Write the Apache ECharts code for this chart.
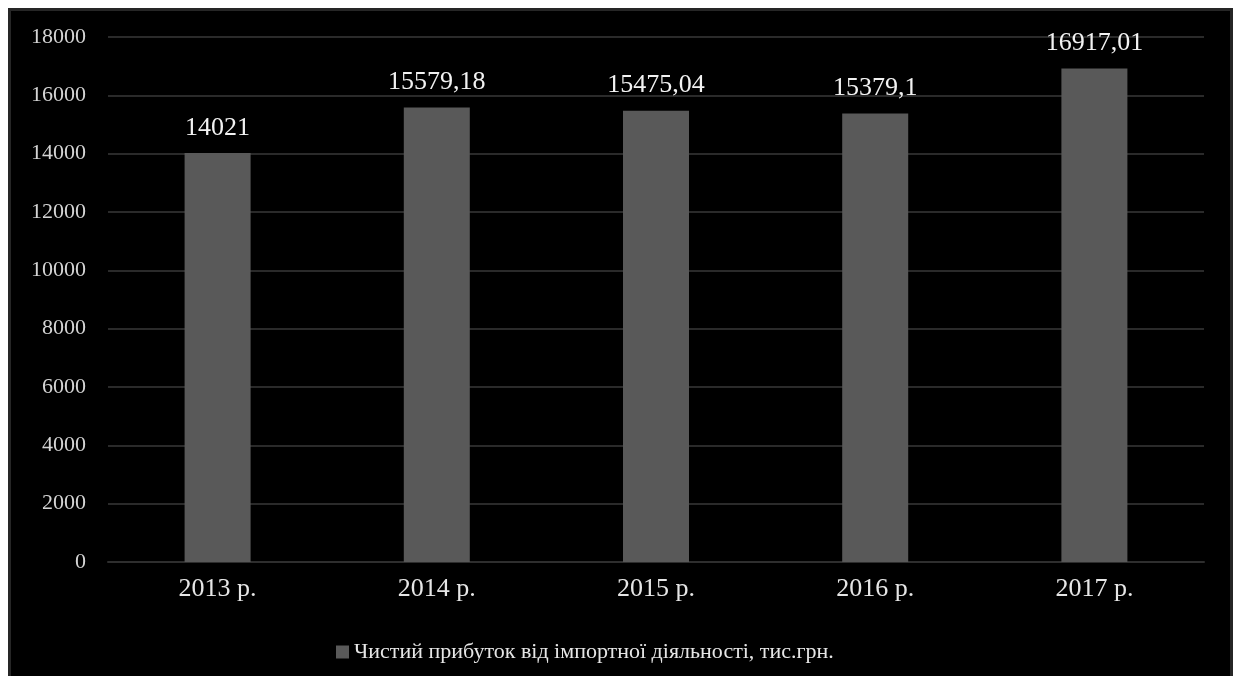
<!DOCTYPE html>
<html>
<head>
<meta charset="utf-8">
<style>
  html, body { margin: 0; padding: 0; background: #ffffff; }
  #chart { width: 1234px; height: 676px; }
</style>
<script src="https://cdn.jsdelivr.net/npm/echarts@6/dist/echarts.min.js"></script>
</head>
<body>
<div id="chart"></div>
<script>
// Net profit from import activity by year
const years = ['2013 р.', '2014 р.', '2015 р.', '2016 р.', '2017 р.'];
const profit = [14021, 15579.18, 15475.04, 15379.1, 16917.01];
const seriesName = 'Чистий прибуток від імпортної діяльності, тис.грн.';

const serif = '"Liberation Serif", "Times New Roman", serif';

const chart = echarts.init(document.getElementById('chart'), null, { renderer: 'canvas' });

chart.setOption({
  backgroundColor: '#ffffff',
  animation: false,
  graphic: [{
    type: 'rect',
    z: -10,
    shape: { x: 9.5, y: 9.5, width: 1222, height: 680 },
    style: { fill: '#000000', stroke: '#262626', lineWidth: 3 }
  }],
  grid: { left: 108, right: 30, top: 37, bottom: 114, containLabel: false },
  legend: {
    data: [seriesName],
    left: 331,
    top: 636,
    icon: 'rect',
    itemWidth: 13,
    itemHeight: 13,
    itemGap: 6,
    textStyle: { color: '#e6e6e6', fontFamily: serif, fontSize: 22 }
  },
  xAxis: {
    type: 'category',
    data: years,
    axisLine: { show: true, lineStyle: { color: '#2e2e2e', width: 2 } },
    axisTick: { show: false },
    axisLabel: { color: '#e6e6e6', fontFamily: serif, fontSize: 26, margin: 14 }
  },
  yAxis: {
    type: 'value',
    min: 0,
    max: 18000,
    interval: 2000,
    axisLine: { show: false },
    axisTick: { show: false },
    axisLabel: {
      color: '#d4d4d4', fontFamily: serif, fontSize: 22, margin: 22,
      formatter: v => String(v)
    },
    splitLine: { lineStyle: { color: '#2a2a2a', width: 2 } }
  },
  series: [{
    name: seriesName,
    type: 'bar',
    data: profit,
    barWidth: 66,
    itemStyle: { color: '#595959' },
    label: {
      show: true,
      position: 'top',
      distance: 12,
      color: '#f2f2f2',
      fontFamily: serif,
      fontSize: 26,
      formatter: p => String(p.value).replace('.', ',')
    }
  }]
});
</script>
</body>
</html>
